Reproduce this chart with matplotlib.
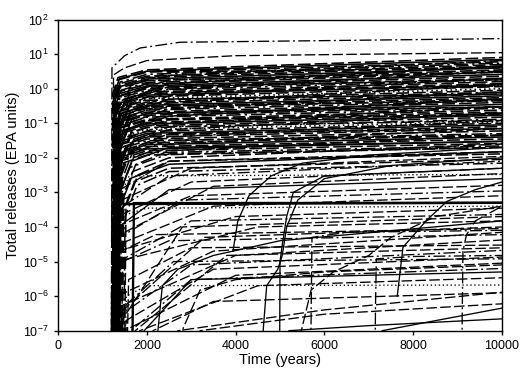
import matplotlib.pyplot as plt

plt.rcParams['font.family'] = ['Liberation Sans', 'DejaVu Sans']
plt.rcParams['mathtext.fontset'] = 'custom'
plt.rcParams['mathtext.rm'] = 'Liberation Sans'
plt.rcParams['mathtext.it'] = 'Liberation Sans:italic'
plt.rcParams['mathtext.bf'] = 'Liberation Sans:bold'

# ---- data ----
# main dense band: year the release starts, value at 2000 y, value at 10000 y
band_on = [1200, 1230, 1210, 1250, 1220, 1260, 1240, 1205, 1270, 1215,
           1235, 1280, 1225, 1245, 1290, 1210, 1255, 1230, 1300, 1220,
           1265, 1240, 1285, 1215, 1250, 1310, 1235, 1275, 1225, 1295,
           1260, 1245, 1320, 1230, 1280, 1250, 1305, 1240, 1270, 1290,
           1255, 1315, 1265, 1300, 1280, 1325, 1290, 1310, 1300, 1330]
band_2000 = [3.5, 3.2, 3.0, 2.6, 2.3, 2.1, 1.9, 1.7, 1.5, 1.35,
             1.2, 1.1, 1.0, 0.9, 0.8, 0.72, 0.65, 0.58, 0.52, 0.46,
             0.41, 0.37, 0.33, 0.3, 0.27, 0.24, 0.21, 0.19, 0.17, 0.15,
             0.13, 0.12, 0.105, 0.095, 0.085, 0.075, 0.066, 0.058, 0.051, 0.045,
             0.04, 0.035, 0.031, 0.027, 0.024, 0.021, 0.018, 0.016, 0.014, 0.012]
band_10000 = [8.0, 7.0, 6.0, 5.5, 5.0, 4.5, 4.0, 3.5, 3.2, 3.0,
              2.6, 2.3, 2.0, 1.8, 1.6, 1.4, 1.3, 1.15, 1.0, 0.9,
              0.8, 0.7, 0.62, 0.55, 0.5, 0.45, 0.4, 0.35, 0.3, 0.27,
              0.24, 0.21, 0.19, 0.17, 0.15, 0.13, 0.11, 0.1, 0.09, 0.08,
              0.07, 0.06, 0.05, 0.045, 0.04, 0.035, 0.03, 0.026, 0.022, 0.02]

# slower-rising strands inside and just below the band: start, value at 2500 y, value at 10000 y
band2_on = [1330, 1350, 1280, 1370, 1300, 1340, 1260, 1380, 1320, 1290,
            1360, 1310, 1400, 1270, 1350, 1330, 1390, 1300, 1420, 1340,
            1280, 1400, 1360, 1450, 1310, 1380, 1500, 1350, 1420, 1480]
band2_2500 = [3.0, 2.4, 1.8, 1.4, 1.15, 0.95, 0.78, 0.62, 0.5, 0.4,
              0.32, 0.26, 0.2, 0.16, 0.13, 0.1, 0.08, 0.065, 0.05, 0.04,
              0.032, 0.025, 0.02, 0.016, 0.013, 0.01, 0.008, 0.0065, 0.005, 0.004]
band2_10000 = [4.0, 6.5, 3.0, 4.5, 1.8, 3.2, 1.2, 2.0, 0.7, 1.3,
               0.45, 0.8, 0.3, 0.5, 0.18, 0.3, 0.12, 0.2, 0.07, 0.12,
               0.045, 0.07, 0.03, 0.045, 0.02, 0.025, 0.013, 0.015, 0.009, 0.007]

# middle and lower curves: start year, value after the jump, knee year, knee value, value at 10000 y
mid_on = [1250, 1260, 1280, 1300, 1240, 1320, 1270, 1350, 1300, 1670,
          1290, 1310, 1330, 1280, 1300, 1350]
mid_jump = [1e-3, 5e-4, 3e-4, 2e-4, 5e-5, 1e-4, 1e-4, 5e-5, 2e-4, 4.8e-4,
            3e-5, 2e-5, 1e-5, 1e-5, 5e-4, 2e-4]
mid_knee_t = [2500, 3000, 2500, 3000, 3500, 2500, 3000, 2800, 1500, 1700,
              3500, 4000, 3000, 4500, 1600, 2000]
mid_knee = [8e-3, 5e-3, 3e-3, 2e-3, 1.5e-3, 1.2e-3, 8e-4, 6e-4, 4.6e-4, 4.9e-4,
            4e-4, 2e-4, 1.5e-4, 1e-4, 3e-3, 3.5e-4]
mid_end = [1.5e-2, 1.1e-2, 8e-3, 5e-3, 3.5e-3, 2.5e-3, 1.6e-3, 1.1e-3, 5e-4, 5e-4,
           8e-4, 3.5e-4, 2.3e-4, 1.5e-4, 3.3e-3, 4e-4]

low_on = [1300, 1350, 1400, 1500, 1450, 1600, 1800, 1500, 2100, 1380,
          1420, 1550, 1250, 1320, 1450, 1700, 1900]
low_jump = [1e-6, 5e-7, 3e-7, 2e-7, 1e-7, 1e-7, 1e-7, 1e-6, 1e-7, 2e-5,
            1e-5, 3e-6, 1e-7, 3e-7, 5e-7, 1e-7, 1e-7]
low_knee_t = [3500, 4000, 3000, 3500, 4000, 3000, 4500, 2000, 3500, 2200,
              2500, 3000, 2800, 3300, 2600, 3800, 3000]
low_knee = [2e-5, 1.5e-5, 8e-6, 6e-6, 4e-6, 3e-6, 2e-6, 2e-6, 7e-7, 6e-5,
            4e-5, 2.5e-5, 1e-4, 5e-5, 1e-5, 1.5e-5, 3e-6]
low_end = [7e-5, 4.2e-5, 2.1e-5, 1.35e-5, 9e-6, 6.3e-6, 3.4e-6, 2.1e-6, 1.25e-6, 9e-5,
           6e-5, 3e-5, 2e-4, 1e-4, 1.2e-5, 2.5e-5, 5e-6]

# the two top curves and the late starting ones, as (year, value) knots
top_t = [[1200, 1215, 1500, 1850, 2750, 10000],
         [1225, 1250, 1500, 2000, 4000, 10000]]
top_v = [[1e-8, 4, 9, 15, 22, 28],
         [1e-8, 2.5, 4, 6.5, 9, 11]]

late_t = [[3940, 4050, 4300, 4800, 5500, 7000, 10000],
          [4580, 4620, 4700, 4950, 5050, 5150, 5400, 6000, 7500, 10000],
          [4990, 5000, 5050, 5150, 5300, 6000, 10000],
          [5430, 5480, 5700, 6200, 7000, 7500, 8500, 10000],
          [5690, 5705, 5720, 6500, 10000],
          [7140, 7150, 7170, 8000, 10000],
          [7640, 7770, 8310, 8760, 9400, 10000],
          [9080, 9100, 9120, 9200, 9400, 10000],
          [2200, 2250, 2350, 2700, 3500, 5000, 10000],
          [2750, 2820, 3200, 4000, 6000, 10000],
          [5000, 5200, 7000, 10000],
          [7000, 7300, 10000],
          [2500, 2700, 6000, 10000],
          [3000, 3200, 6000, 10000]]
late_v = [[2e-5, 1.5e-4, 8e-4, 3e-3, 7e-3, 1.2e-2, 2e-2],
          [1e-8, 1e-7, 2e-6, 6e-6, 1.5e-5, 1e-4, 6e-4, 2.5e-3, 6e-3, 1e-2],
          [1e-8, 1e-5, 3e-5, 2e-4, 1e-3, 3e-3, 5e-3],
          [1e-8, 1e-7, 1.5e-6, 5e-6, 1.5e-5, 5e-5, 2e-4, 4e-4],
          [1e-8, 1e-6, 5e-5, 7e-5, 8e-5],
          [1e-8, 5e-7, 1.2e-5, 1.4e-5, 1.5e-5],
          [1e-6, 2.6e-5, 1.6e-4, 5.5e-4, 1.2e-3, 2e-3],
          [1e-8, 1e-7, 2e-5, 6e-5, 1.5e-4, 4e-4],
          [1e-8, 1e-7, 2e-6, 6e-6, 1.5e-5, 4e-5, 1.5e-4],
          [1e-8, 1.2e-7, 1.5e-6, 3e-6, 5e-6, 8e-6],
          [1e-8, 1e-7, 1.4e-7, 2.2e-7],
          [1e-8, 1e-7, 4.5e-7],
          [1e-8, 1e-7, 4e-7, 1.3e-6],
          [1e-8, 1e-7, 3e-7, 6e-7]]

# ---- styles ----
dash = {'d': (0, (8, 2.5)), 's': '-', 'S': '-', 'a': (0, (9, 2.5, 1.5, 2.5)), 'o': (0, (1, 2))}
band_ls = "dsdaddsdad" "sddaddsdod" "adsddadsda" "dddsdaodsd" "ddadsdsdad"
band2_ls = "dadsdd" "adsdad" "dsddad" "daddsd" "addsda"
mid_ls = "ddaddsdaSSddadoo"
low_ls = "ddaddadodd" "adddads"
top_ls = "ad"
late_ls = "sssdaasasdssdd"


def draw(ax, t, v, code, lw=0.95):
    if code == 'S':
        lw = 1.7
    ax.plot(t, v, color='black', lw=lw, ls=dash[code])


fig = plt.figure(figsize=(5.26, 3.84), dpi=100)
ax = fig.add_axes([0.1103, 0.1388, 0.8441, 0.8104])

for i in range(len(band_on)):
    k = band_2000[i]
    t = [band_on[i], band_on[i] + 30, band_on[i] + 150, 2000, 10000]
    v = [1e-8, k * 0.2, k * 0.6, k, band_10000[i]]
    draw(ax, t, v, band_ls[i], lw=1.15)

for i in range(len(band2_on)):
    k = band2_2500[i]
    t = [band2_on[i], band2_on[i] + 30, band2_on[i] + 300, 2500, 10000]
    v = [1e-8, k * 0.05, k * 0.4, k, band2_10000[i]]
    draw(ax, t, v, band2_ls[i], lw=1.1)

for i in range(len(mid_on)):
    t = [mid_on[i], mid_on[i] + 40, mid_knee_t[i], 10000]
    v = [1e-8, mid_jump[i], mid_knee[i], mid_end[i]]
    draw(ax, t, v, mid_ls[i])

for i in range(len(low_on)):
    t = [low_on[i], low_on[i] + 40, low_knee_t[i], 10000]
    v = [1e-8, low_jump[i], low_knee[i], low_end[i]]
    draw(ax, t, v, low_ls[i])

for i in range(len(top_t)):
    draw(ax, top_t[i], top_v[i], top_ls[i])

for i in range(len(late_t)):
    draw(ax, late_t[i], late_v[i], late_ls[i])

ax.set_yscale('log')
ax.set_xlim(0, 10000)
ax.set_ylim(1e-7, 1e2)
ax.set_xticks([0, 2000, 4000, 6000, 8000, 10000])
ax.set_yticks([1e-7, 1e-6, 1e-5, 1e-4, 1e-3, 1e-2, 1e-1, 1e0, 1e1, 1e2])
ax.minorticks_off()
ax.tick_params(direction='out', length=3, width=1, labelsize=9, pad=4)
for s in ax.spines.values():
    s.set_linewidth(1.0)

ax.set_xlabel('Time (years)', fontsize=10.5, labelpad=0.5)
ax.set_ylabel('Total releases (EPA units)', fontsize=10.5, labelpad=2)

fig.savefig('out.png', dpi=100)
